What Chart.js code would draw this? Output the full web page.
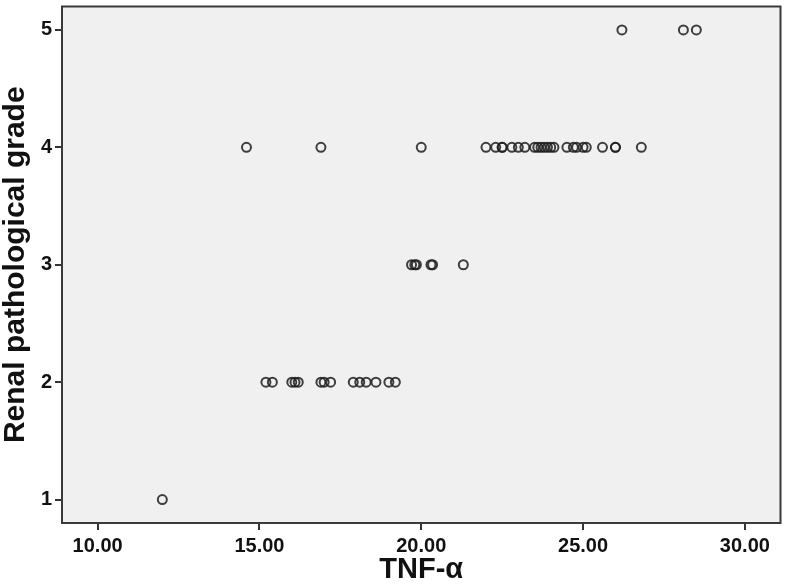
<!DOCTYPE html>
<html>
<head>
<meta charset="utf-8">
<script src="https://cdn.jsdelivr.net/npm/chart.js@4/dist/chart.umd.min.js"></script>
<style>
  body { margin: 0; background: #fff; }
  canvas { display: block; }
</style>
</head>
<body>
<canvas id="scatterChart" width="787" height="584"></canvas>
<script>
// TNF-a values, grouped by renal pathological grade
var grade1Tnf = [12.0];
var grade2Tnf = [15.2, 15.4, 16.0, 16.1, 16.2, 16.9, 17.0, 17.2, 17.9, 18.1, 18.3, 18.6, 19.0, 19.2];
var grade3Tnf = [19.7, 19.8, 19.85, 20.3, 20.35, 21.3];
var grade4Tnf = [14.6, 16.9, 20.0, 22.0, 22.3, 22.5, 22.5, 22.8, 23.0, 23.2, 23.5, 23.6, 23.7,
                 23.8, 23.9, 24.0, 24.1, 24.5, 24.7, 24.8, 25.0, 25.1, 25.6, 26.0, 26.0, 26.8];
var grade5Tnf = [26.2, 28.1, 28.5];

var grades = [1, 2, 3, 4, 5];
var xTicks = [10, 15, 20, 25, 30];
var yTicks = [1, 2, 3, 4, 5];

var groups = [grade1Tnf, grade2Tnf, grade3Tnf, grade4Tnf, grade5Tnf];
var points = [];
for (var g = 0; g < groups.length; g++) {
  for (var i = 0; i < groups[g].length; i++) {
    points.push({ x: groups[g][i], y: grades[g] });
  }
}

// grey plot background and dark frame, like the SPSS output
var plotFrame = {
  id: 'plotFrame',
  beforeDraw: function(chart) {
    var a = chart.chartArea, ctx = chart.ctx;
    ctx.save();
    ctx.fillStyle = '#f0f0f0';
    ctx.fillRect(a.left, a.top, a.right - a.left, a.bottom - a.top);
    ctx.restore();
  },
  afterDraw: function(chart) {
    var a = chart.chartArea, ctx = chart.ctx;
    ctx.save();
    ctx.strokeStyle = '#3a3a3a';
    ctx.lineWidth = 2;
    ctx.strokeRect(a.left, a.top, a.right - a.left, a.bottom - a.top);
    ctx.restore();
  }
};

var fontFamily = '"Liberation Sans", Arial, sans-serif';

var ctx = document.getElementById('scatterChart').getContext('2d');
var chart = new Chart(ctx, {
  type: 'scatter',
  data: {
    datasets: [{
      data: points,
      pointStyle: 'circle',
      pointRadius: 4.5,
      pointBorderWidth: 2,
      pointBorderColor: 'rgba(30,30,30,0.85)',
      pointBackgroundColor: 'rgba(0,0,0,0)'
    }]
  },
  options: {
    responsive: false,
    animation: false,
    layout: { padding: { top: 3, right: 1, left: 0, bottom: 0 } },
    plugins: {
      legend: { display: false },
      tooltip: { enabled: false }
    },
    scales: {
      x: {
        type: 'linear',
        min: 8.9,
        max: 31.1,
        afterBuildTicks: function(axis) {
          axis.ticks = xTicks.map(function(v) { return { value: v }; });
        },
        afterFit: function(axis) {
          axis.height = 61;
          axis.paddingLeft = 0;
          axis.paddingRight = 0;
        },
        grid: { drawOnChartArea: false, tickLength: 7, color: '#333', lineWidth: 2 },
        border: { display: false },
        ticks: {
          padding: 4,
          color: '#111',
          font: { family: fontFamily, size: 20, weight: 'bold' },
          callback: function(v) { return v.toFixed(2); },
          maxRotation: 0
        },
        title: {
          display: true,
          text: 'TNF-α',
          color: '#111',
          padding: { top: 3, bottom: 0 },
          font: { family: fontFamily, size: 29, weight: 'bold', lineHeight: 1 }
        }
      },
      y: {
        type: 'linear',
        min: 0.8,
        max: 5.2,
        afterBuildTicks: function(axis) {
          axis.ticks = yTicks.map(function(v) { return { value: v }; });
        },
        afterFit: function(axis) {
          axis.width = 62;
          axis.paddingTop = 0;
          axis.paddingBottom = 0;
        },
        grid: { drawOnChartArea: false, tickLength: 7, color: '#333', lineWidth: 2 },
        border: { display: false },
        ticks: {
          padding: 3,
          color: '#111',
          font: { family: fontFamily, size: 20, weight: 'bold' }
        },
        title: {
          display: true,
          text: 'Renal pathological grade',
          color: '#111',
          padding: { top: 1, bottom: 0 },
          font: { family: fontFamily, size: 30, weight: 'bold', lineHeight: 1 }
        }
      }
    }
  },
  plugins: [plotFrame]
});
</script>
</body>
</html>
